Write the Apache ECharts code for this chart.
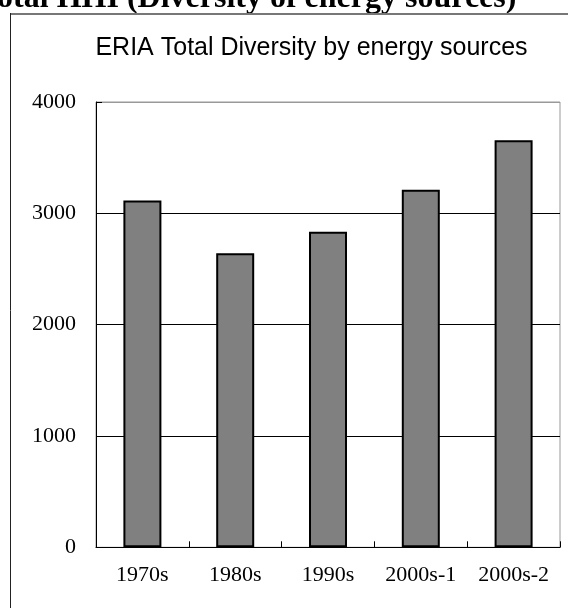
<!DOCTYPE html>
<html>
<head>
<meta charset="utf-8">
<script src="https://cdn.jsdelivr.net/npm/echarts@6/dist/echarts.min.js"></script>
<style>
html,body{margin:0;padding:0;background:#fff;}
#chart{width:568px;height:608px;}
</style>
</head>
<body>
<div id="chart"></div>
<script>
const pageHeading = 'Total HHI (Diversity of energy sources)';
const chartTitle = 'ERIA Total Diversity by energy sources';
const categories = ['1970s', '1980s', '1990s', '2000s-1', '2000s-2'];
const diversityValues = [3115, 2642, 2834, 3211, 3657];
const yTicks = [0, 1000, 2000, 3000, 4000];

const chart = echarts.init(document.getElementById('chart'), null, {renderer: 'canvas'});
chart.setOption({
  animation: false,
  backgroundColor: '#fff',
  graphic: [
    {type: 'text', x: -21.3, y: -1, silent: true,
     style: {text: pageHeading, font: 'bold 32px "Liberation Serif", serif', fill: '#000', align: 'left', verticalAlign: 'middle'}},
    {type: 'line', shape: {x1: 10.5, y1: 14, x2: 568, y2: 14}, style: {stroke: '#777', lineWidth: 2}},
    {type: 'line', shape: {x1: 10.5, y1: 13, x2: 10.5, y2: 608}, style: {stroke: '#222', lineWidth: 1}},
    {type: 'text', x: 311.5, y: 48.4, silent: true,
     style: {text: chartTitle, font: '25px "Liberation Sans", Arial, sans-serif', fill: '#000', align: 'center', verticalAlign: 'middle'}}
  ],
  grid: {left: 96, right: 8, top: 102, bottom: 60.7, show: true, borderColor: '#999', borderWidth: 1, backgroundColor: 'transparent'},
  xAxis: {
    type: 'category',
    data: categories,
    axisLine: {lineStyle: {color: '#000', width: 1}},
    axisTick: {show: true, inside: true, length: 6, lineStyle: {color: '#000'}},
    axisLabel: {margin: 17, color: '#000', fontFamily: '"Liberation Serif", serif', fontSize: 22}
  },
  yAxis: {
    type: 'value',
    min: yTicks[0], max: yTicks[yTicks.length - 1], interval: 1000,
    axisLine: {show: true, lineStyle: {color: '#000', width: 1}},
    axisTick: {show: true, inside: true, length: 6, lineStyle: {color: '#000'}},
    axisLabel: {margin: 20, color: '#000', fontFamily: '"Liberation Serif", serif', fontSize: 22,
                formatter: function (v) { return String(v); }},
    splitLine: {show: true, lineStyle: {color: ['#000', '#000', '#000', '#000', '#999'], width: 1}}
  },
  series: [{
    type: 'bar',
    data: diversityValues,
    barWidth: 38,
    itemStyle: {color: '#808080', borderColor: '#000', borderWidth: 2}
  }]
});
</script>
</body>
</html>
